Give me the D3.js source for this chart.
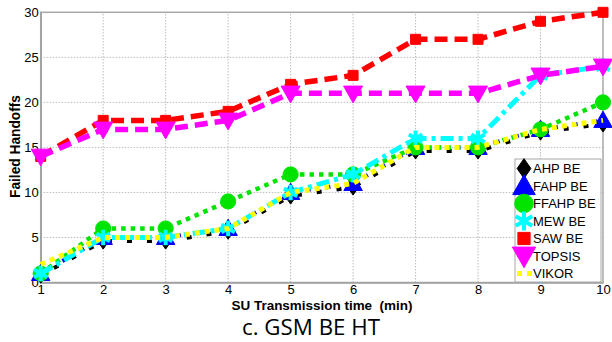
<!DOCTYPE html>
<html>
<head>
<meta charset="utf-8">
<script src="https://cdn.jsdelivr.net/npm/d3@7"></script>
<style>
  html, body { margin: 0; padding: 0; background: #fff; }
  svg { display: block; }
</style>
</head>
<body>
<svg id="chart" width="612" height="342"></svg>
<script>
// Transmission time (min)
const times = [1, 2, 3, 4, 5, 6, 7, 8, 9, 10];
// Failed handoffs per method
const ahpBE   = [0.8, 4.6, 4.6, 5.7, 9.6, 10.6, 14.6, 14.6, 16.7, 17.6];
const fahpBE  = [1, 5, 5, 6, 10, 11, 15, 15, 17, 18];
const ffahpBE = [1, 6, 6, 9, 12, 12, 15, 15, 17, 20];
const mewBE   = [1, 5, 5, 6, 10, 12, 16, 16, 23, 24];
const sawBE   = [14, 18, 18, 19, 22, 23, 27, 27, 29, 30];
const topsis  = [14, 17, 17, 18, 21, 21, 21, 21, 23, 24];
const vikor   = [2, 5, 5, 6, 10, 11, 15, 15, 17, 18];
const seriesNames = ["AHP BE", "FAHP BE", "FFAHP BE", "MEW BE", "SAW BE", "TOPSIS", "VIKOR"];
const xTicks = [1, 2, 3, 4, 5, 6, 7, 8, 9, 10];
const yTicks = [0, 5, 10, 15, 20, 25, 30];

const svg = d3.select("#chart");
const x = d3.scaleLinear().domain([1, 10]).range([40.7, 603]);
const y = d3.scaleLinear().domain([0, 30]).range([282.5, 12.3]);

// hexagram-style asterisk marker
const starSym = {
  draw(ctx, size) {
    const r = Math.sqrt(size) * 0.55;
    for (let i = 0; i < 3; i++) {
      const a = Math.PI / 6 + i * Math.PI / 3;
      ctx.moveTo(-r * Math.cos(a), -r * Math.sin(a));
      ctx.lineTo(r * Math.cos(a), r * Math.sin(a));
    }
  }
};
const triDown = {
  draw(ctx, size) {
    const s = Math.sqrt(size);
    ctx.moveTo(-s * 0.55, -s * 0.42);
    ctx.lineTo(s * 0.55, -s * 0.42);
    ctx.lineTo(0, s * 0.55);
    ctx.closePath();
  }
};
const triUp = {
  draw(ctx, size) {
    const s = Math.sqrt(size);
    ctx.moveTo(-s * 0.55, s * 0.42);
    ctx.lineTo(s * 0.55, s * 0.42);
    ctx.lineTo(0, -s * 0.55);
    ctx.closePath();
  }
};
const diamond = {
  draw(ctx, size) {
    const s = Math.sqrt(size);
    ctx.moveTo(0, -s * 0.6);
    ctx.lineTo(s * 0.42, 0);
    ctx.lineTo(0, s * 0.6);
    ctx.lineTo(-s * 0.42, 0);
    ctx.closePath();
  }
};

const series = [
  { name: seriesNames[0], values: ahpBE,   color: "#000000", dash: "5,15",     off: -15, width: 4,   sym: diamond,         size: 180, mode: "fill" },
  { name: seriesNames[1], values: fahpBE,  color: "#0000ff", dash: "5,15",     off: -5,  width: 4,   sym: triUp,           size: 280, mode: "fill" },
  { name: seriesNames[2], values: ffahpBE, color: "#00e400", dash: "4.5,5",    off: 0,   width: 4.5, sym: d3.symbolCircle, size: 180, mode: "fill" },
  { name: seriesNames[3], values: mewBE,   color: "#00ffff", dash: "13,5,4,5", off: 0,   width: 5,   sym: starSym,         size: 200, mode: "stroke" },
  { name: seriesNames[4], values: sawBE,   color: "#ff0000", dash: "13,7",     off: 0,   width: 5.5, sym: d3.symbolSquare, size: 100, mode: "fill" },
  { name: seriesNames[5], values: topsis,  color: "#ff00ff", dash: "13,7",     off: 0,   width: 5.5, sym: triDown,         size: 300, mode: "fill" },
  { name: seriesNames[6], values: vikor,   color: "#ffff00", dash: "5,5",      off: 0,   width: 5,   sym: null,            size: 0,   mode: "none" }
];

// grid
const grid = svg.append("g");
grid.selectAll("line.vx").data(xTicks.slice(1, -1)).join("line")
  .attr("x1", d => x(d)).attr("x2", d => x(d))
  .attr("y1", y(0)).attr("y2", y(30))
  .attr("stroke", "#bbbbbb").attr("stroke-width", 1).attr("stroke-dasharray", "1.5,1.5");
grid.selectAll("line.hy").data(yTicks.slice(1, -1)).join("line")
  .attr("x1", x(1)).attr("x2", x(10))
  .attr("y1", d => y(d)).attr("y2", d => y(d))
  .attr("stroke", "#bbbbbb").attr("stroke-width", 1).attr("stroke-dasharray", "1.5,1.5");

// frame
svg.append("rect")
  .attr("x", x(1)).attr("y", y(30))
  .attr("width", x(10) - x(1)).attr("height", y(0) - y(30))
  .attr("fill", "none").attr("stroke", "#a8a8a8").attr("stroke-width", 1.5);

// axes
const xAxis = svg.append("g").attr("transform", `translate(0,${y(0)})`)
  .call(d3.axisBottom(x).tickValues(xTicks).tickFormat(d3.format("d")).tickSize(0).tickPadding(2));
const yAxis = svg.append("g").attr("transform", `translate(${x(1)},0)`)
  .call(d3.axisLeft(y).tickValues(yTicks).tickSize(0).tickPadding(2));
[xAxis, yAxis].forEach(a => {
  a.select(".domain").attr("stroke", "#a0a0a0").attr("stroke-width", 1.5);
  a.selectAll("text").attr("font-family", "Liberation Sans, Arial, sans-serif")
    .attr("font-size", 13).attr("fill", "#000");
});

// lines and markers
const line = d3.line().x((d, i) => x(times[i])).y(d => y(d));
const plot = svg.append("g");
series.forEach(s => {
  plot.append("path").datum(s.values)
    .attr("d", line)
    .attr("fill", "none")
    .attr("stroke", s.color)
    .attr("stroke-width", s.width)
    .attr("stroke-dasharray", s.dash)
    .attr("stroke-dashoffset", s.off)
    .attr("stroke-linejoin", "round");
  if (s.sym) {
    plot.selectAll(null).data(s.values).join("path")
      .attr("transform", (d, i) => `translate(${x(times[i])},${y(d)})`)
      .attr("d", d3.symbol(s.sym, s.size))
      .attr("fill", s.mode === "fill" ? s.color : "none")
      .attr("stroke", s.color)
      .attr("stroke-width", s.mode === "stroke" ? 4 : 1);
  }
});

// stretch a text to a target width by tuning its font size
function fitWidth(sel, target) {
  const fs = parseFloat(sel.attr("font-size"));
  const w = sel.node().getComputedTextLength();
  if (w > 0) sel.attr("font-size", (fs * target / w).toFixed(2));
}

// axis titles
const yLab = svg.append("text")
  .attr("transform", `translate(20,146.5) rotate(-90)`)
  .attr("text-anchor", "middle")
  .attr("font-family", "Liberation Sans, Arial, sans-serif")
  .attr("font-size", 14).attr("font-weight", "bold")
  .text("Failed Handoffs");
fitWidth(yLab, 103);
const xLab = svg.append("text")
  .attr("x", 322).attr("y", 309.5)
  .attr("text-anchor", "middle")
  .attr("font-family", "Liberation Sans, Arial, sans-serif")
  .attr("font-size", 13).attr("font-weight", "bold")
  .attr("xml:space", "preserve")
  .text("SU Transmission time  (min)");
fitWidth(xLab, 181);
const title = svg.append("text")
  .attr("x", 311).attr("y", 335)
  .attr("text-anchor", "middle")
  .attr("font-family", "Open Sans, Noto Sans, sans-serif")
  .attr("font-size", 21)
  .text("c. GSM BE HT");
fitWidth(title, 138);

// legend
const lg = svg.append("g").attr("transform", "translate(515,159)");
lg.append("rect").attr("width", 86).attr("height", 123)
  .attr("fill", "#fff").attr("stroke", "#a8a8a8").attr("stroke-width", 1);
series.forEach((s, i) => {
  const cy = 9.5 + i * 17.5;
  const g = lg.append("g").attr("transform", `translate(0,${cy})`);
  if (s.sym) {
    g.append("path").attr("transform", "translate(9,0)")
      .attr("d", d3.symbol(s.sym, s.size * 1.5))
      .attr("fill", s.mode === "fill" ? s.color : "none")
      .attr("stroke", s.color)
      .attr("stroke-width", s.mode === "stroke" ? 4 : 1);
  } else {
    g.append("line").attr("x1", 2).attr("x2", 17).attr("y1", 0).attr("y2", 0)
      .attr("stroke", s.color).attr("stroke-width", s.width).attr("stroke-dasharray", s.dash);
  }
  g.append("text").attr("x", 18).attr("y", 4.5)
    .attr("font-family", "Liberation Sans, Arial, sans-serif")
    .attr("font-size", 13).attr("fill", "#000")
    .text(s.name);
});
</script>
</body>
</html>
